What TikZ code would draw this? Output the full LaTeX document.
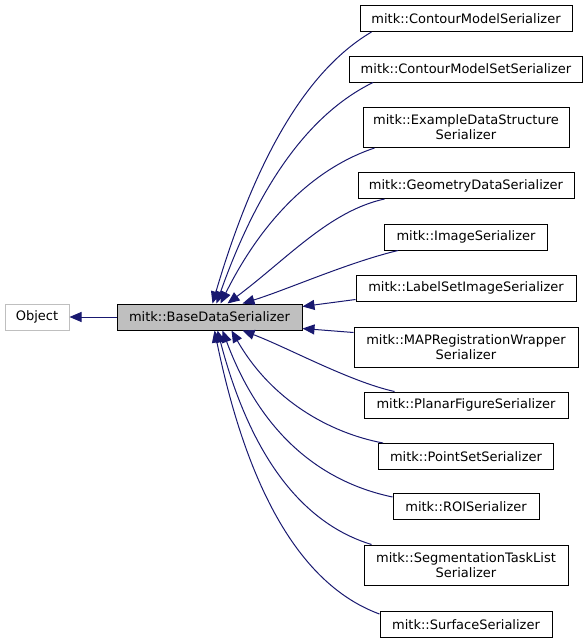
\documentclass[tikz,border=0pt]{standalone}
\usepackage{fontspec}
\setmainfont{DejaVu Sans}
\usepackage{tikz}
\usetikzlibrary{arrows.meta}
\definecolor{edgeblue}{HTML}{191970}
\definecolor{lightgrey}{HTML}{BFBFBF}
\tikzset{
    >={Triangle[length=12pt, width=10pt]},
    classbox/.style={draw=black, line width=1pt, inner sep=0pt, align=center,
        minimum height=26, font=\fontsize{13}{15}\selectfont},
    baseclass/.style={classbox, fill=lightgrey},
    external/.style={classbox, draw=lightgrey},
    inherit/.style={->, edgeblue, line width=1pt},
}

\begin{document}
\begin{tikzpicture}[x=1pt, y=-1pt]
            \useasboundingbox (0,0) rectangle (588,643);
            \node[external, minimum width=64] (n_obj) at (37,317) {Object};
            \node[baseclass, minimum width=185] (n_base) at (209.5,317) {mitk::BaseDataSerializer};
            \foreach \nm/\y/\w/\h/\txt in {
                cm/18.5/212/26/{mitk::ContourModelSerializer},
                cms/69/233/26/{mitk::ContourModelSetSerializer},
                eds/127.5/206/40/{mitk::ExampleDataStructure\\Serializer},
                gd/185.5/216/26/{mitk::GeometryDataSerializer},
                img/237/163/26/{mitk::ImageSerializer},
                lsi/288/220/26/{mitk::LabelSetImageSerializer},
                map/347/224/40/{mitk::MAPRegistrationWrapper\\Serializer},
                pf/405/204/26/{mitk::PlanarFigureSerializer},
                ps/456.5/175/26/{mitk::PointSetSerializer},
                roi/506.5/146/26/{mitk::ROISerializer},
                stl/565/204/40/{mitk::SegmentationTaskList\\Serializer},
                sur/624.5/172/26/{mitk::SurfaceSerializer}} {
                \node[classbox, minimum width=\w, minimum height=\h] (n_\nm) at (466,\y) {\txt};
            }
            \draw[inherit] (n_base) -- (n_obj);
            % upper children
            \draw[inherit] ([xshift=12]n_cm.south west) .. controls +(-56,33) and +(48,-163) .. ([xshift=96]n_base.north west);
            \draw[inherit] ([xshift=24]n_cms.south west) .. controls +(-55,27) and +(47,-133) .. ([xshift=100]n_base.north west);
            \draw[inherit] ([xshift=12]n_eds.south west) .. controls +(-54,18) and +(46,-92) .. ([xshift=104]n_base.north west);
            \draw[inherit] ([xshift=27]n_gd.south west) .. controls +(-55,12) and +(60,-45) .. ([xshift=111]n_base.north west);
            \draw[inherit] ([xshift=14]n_img.south west) .. controls +(-50,12) and +(45,-14) .. ([xshift=126]n_base.north west);
            \draw[inherit] ([yshift=2]n_lsi.south west) -- ([yshift=-3]n_base.north east);
            % lower children
            \draw[inherit] ([yshift=-6]n_map.north west) -- ([yshift=2]n_base.south east);
            \draw[inherit] ([xshift=31]n_pf.north west) .. controls +(-45,-10) and +(45,17) .. ([xshift=126]n_base.south west);
            \draw[inherit] ([xshift=5]n_ps.north west) .. controls +(-53,-10) and +(40,70) .. ([xshift=115]n_base.south west);
            \draw[inherit] ([yshift=-4]n_roi.north west) .. controls +(-62,-13) and +(42,113) .. ([xshift=106]n_base.south west);
            \draw[inherit] ([xshift=8]n_stl.north west) .. controls +(-56,-17) and +(38,145) .. ([xshift=101]n_base.south west);
            \draw[inherit] ([yshift=-3]n_sur.north west) .. controls +(-60,-22) and +(40,194) .. ([xshift=98]n_base.south west);
\end{tikzpicture}
\end{document}
